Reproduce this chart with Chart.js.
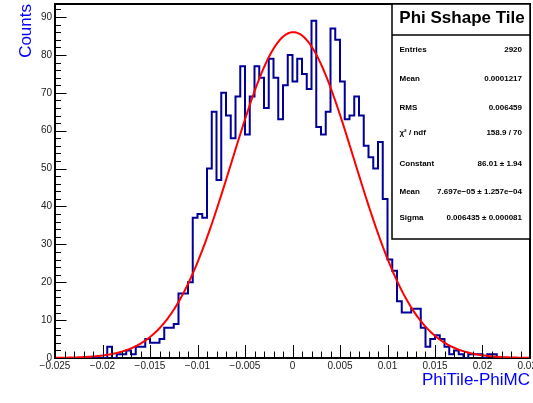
<!DOCTYPE html>
<html><head><meta charset="utf-8">
<script src="https://cdn.jsdelivr.net/npm/chart.js@4/dist/chart.umd.min.js"></script>
<style>html,body{margin:0;padding:0;background:#fff;}#wrap{width:533px;height:403px;position:relative;}</style>
</head><body><div id="wrap"><canvas id="c" width="533" height="403"></canvas></div>
<script>
// ---- data ----
const xMin = -0.025, xMax = 0.025, binWidth = 0.0005;
const counts = [
  0,0,0,0,0,0,0,0,0,0,
  0,3,0,1,1,2,1,3,3,5,
  4,4,5,8,8,9,17,17,20,37,
  38,37,50,65,47,70,64,58,69,77,
  59,69,77,74,66,79,74,63,72,80,
  73,79,75,71,89,61,59,65,87,84,
  73,63,64,69,64,56,53,50,57,42,
  26,23,15,12,12,13,13,8,3,5,
  6,5,3,1,2,1,0,1,1,1,
  0,1,1,0,0,0,0,0,0,0
];
const xTickValues = [-0.025,-0.02,-0.015,-0.01,-0.005,0,0.005,0.01,0.015,0.02,0.025];
const yTickValues = [0,10,20,30,40,50,60,70,80,90];
const yMax = 93.45;
const fitConstant = 86.01, fitMean = 7.697e-05, fitSigma = 0.006435;
const statsTitle = "Phi Sshape Tile";
const statsLabels = ["Entries","Mean","RMS","\u03C7\u00B2 / ndf","Constant","Mean","Sigma"];
const statsValues = ["2920","0.0001217","0.006459","158.9 / 70","86.01 \u00B1 1.94","7.697e\u221205 \u00B1 1.257e\u221204","0.006435 \u00B1 0.000081"];
const xTitle = "PhiTile-PhiMC", yTitle = "Counts";

// ---- build datasets ----
const histPoints = counts.map((c,i)=>({x: xMin + i*binWidth, y: c}));
histPoints.push({x: xMax, y: counts[counts.length-1]});
const fitPoints = [];
const nFit = 400;
for (let k=0;k<=nFit;k++){
  const x = xMin + (xMax-xMin)*k/nFit;
  fitPoints.push({x, y: fitConstant*Math.exp(-0.5*Math.pow((x-fitMean)/fitSigma,2))});
}

const FONT = "'Liberation Sans', Arial, Helvetica, sans-serif";
function fmt(v){ const r = Math.round(v*1000)/1000; if (r===0) return "0"; return (r<0?"\u2212":"") + String(Math.abs(r)); }

const rootPlugin = {
  id: 'rootPlugin',
  afterDraw(chart){
    const ctx = chart.ctx, a = chart.chartArea, xs = chart.scales.x, ys = chart.scales.y;
    ctx.save();
    // frame top/right
    ctx.strokeStyle = '#000'; ctx.lineWidth = 2;
    ctx.beginPath(); ctx.moveTo(a.left, a.top); ctx.lineTo(a.right, a.top); ctx.lineTo(a.right, a.bottom); ctx.stroke();
    // x ticks (major + 4 minor)
    ctx.lineWidth = 1;
    for (let m=0;m<xTickValues.length;m++){
      const v0 = xTickValues[m];
      const px = xs.getPixelForValue(v0);
      ctx.beginPath(); ctx.moveTo(Math.round(px)+0.5, a.bottom); ctx.lineTo(Math.round(px)+0.5, a.bottom-13); ctx.stroke();
      if (m < xTickValues.length-1){
        const step = (xTickValues[m+1]-v0)/5;
        for (let s=1;s<5;s++){
          const p = xs.getPixelForValue(v0+s*step);
          ctx.beginPath(); ctx.moveTo(Math.round(p)+0.5, a.bottom); ctx.lineTo(Math.round(p)+0.5, a.bottom-6.5); ctx.stroke();
        }
      }
    }
    // y ticks (major + 4 minor)
    for (let m=0;m<yTickValues.length;m++){
      const v0 = yTickValues[m];
      const py = ys.getPixelForValue(v0);
      ctx.beginPath(); ctx.moveTo(a.left, Math.round(py)+0.5); ctx.lineTo(a.left+11.5, Math.round(py)+0.5); ctx.stroke();
      const step = 2;
      for (let s=1;s<5;s++){
        const vv = v0+s*step; if (vv>yMax) break;
        const p = ys.getPixelForValue(vv);
        ctx.beginPath(); ctx.moveTo(a.left, Math.round(p)+0.5); ctx.lineTo(a.left+6, Math.round(p)+0.5); ctx.stroke();
      }
    }
    // stats box
    const bx = 392, by = a.top, bw = a.right-392, bh = 235;
    ctx.fillStyle = '#fff';
    ctx.fillRect(bx, by, bw, bh);
    ctx.strokeStyle = '#000'; ctx.lineWidth = 1.5;
    ctx.strokeRect(bx, by, bw, bh);
    ctx.beginPath(); ctx.moveTo(bx, 35); ctx.lineTo(bx+bw, 35); ctx.stroke();
    ctx.fillStyle = '#000';
    ctx.font = "bold 17px " + FONT;
    ctx.textAlign = 'center'; ctx.textBaseline = 'alphabetic';
    ctx.fillText(statsTitle, bx+bw/2+1, 23);
    const rowY = [49.5, 79, 108, 133, 164, 191.5, 217.5];
    ctx.textBaseline = 'middle';
    for (let i=0;i<statsLabels.length;i++){
      ctx.font = "bold 8px " + FONT;
      ctx.textAlign = 'left';
      ctx.fillText(statsLabels[i], 399.5, rowY[i]);
      ctx.textAlign = 'right';
      ctx.fillText(statsValues[i], 522, rowY[i]);
    }
    ctx.restore();
  }
};

new Chart(document.getElementById('c'), {
  type: 'line',
  data: { datasets: [
    { label: 'fit', data: fitPoints, borderColor: '#ff0000', borderWidth: 2, pointRadius: 0, fill: false, tension: 0, order: 1 },
    { label: 'hist', data: histPoints, borderColor: '#000099', borderWidth: 2, pointRadius: 0, fill: false, stepped: 'before', order: 2 }
  ]},
  options: {
    responsive: false, animation: false, devicePixelRatio: 1,
    layout: { padding: { top: 4, right: 3, left: 0, bottom: 0 } },
    plugins: { legend: { display: false }, tooltip: { enabled: false } },
    scales: {
      x: {
        type: 'linear', min: xMin, max: xMax,
        grid: { display: false, drawTicks: false, tickLength: 0 },
        border: { display: true, color: '#000', width: 2 },
        afterBuildTicks: s => { s.ticks = xTickValues.map(v=>({value:v})); },
        afterFit: s => { s.height = 45; s.paddingLeft = 0; s.paddingRight = 0; },
        ticks: { autoSkip: false, maxRotation: 0, padding: 2, color: '#222', font: { family: FONT, size: 10 }, callback: v => fmt(v) },
        title: { display: true, text: xTitle, align: 'end', color: '#0000ff', font: { family: FONT, size: 17 }, padding: { top: 0, bottom: 12 } }
      },
      y: {
        type: 'linear', min: 0, max: yMax,
        grid: { display: false, drawTicks: false, tickLength: 0 },
        border: { display: true, color: '#000', width: 2 },
        afterBuildTicks: s => { s.ticks = yTickValues.map(v=>({value:v})); },
        afterFit: s => { s.width = 55; s.paddingTop = 0; s.paddingBottom = 0; },
        ticks: { autoSkip: false, padding: 3, color: '#222', font: { family: FONT, size: 10 }, callback: v => String(v) },
        title: { display: true, text: yTitle, align: 'end', color: '#0000ff', font: { family: FONT, size: 17 }, padding: { top: 16, bottom: 0 } }
      }
    }
  },
  plugins: [rootPlugin]
});
</script>
</body></html>
